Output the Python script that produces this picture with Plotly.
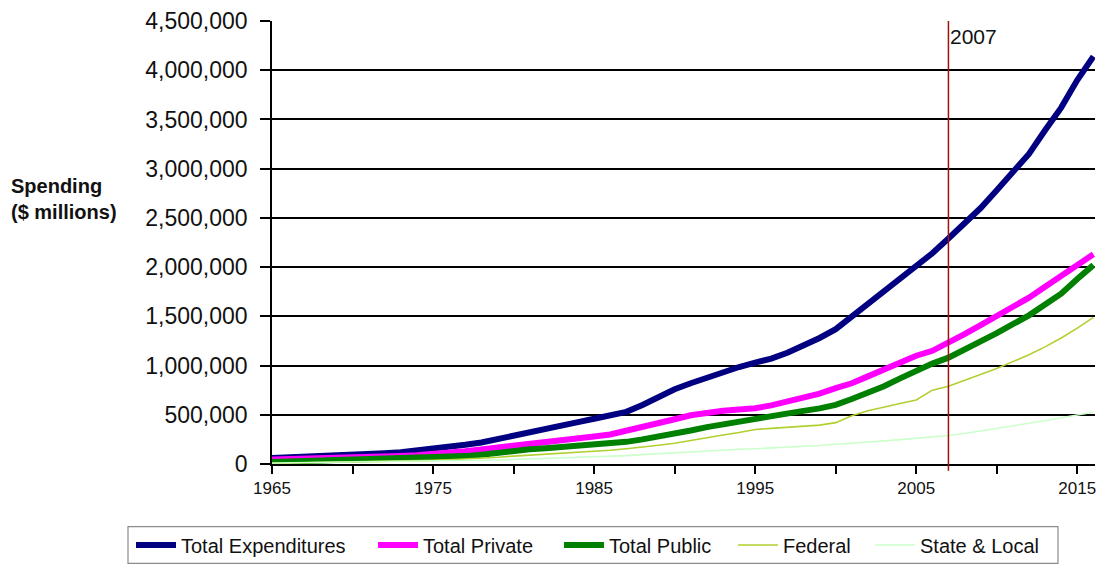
import plotly.graph_objects as go

# National health spending by source of funds ($ millions)
years = list(range(1965, 2017))

total_expenditures = [
    60000, 65000, 72000, 80000, 88000, 95000, 102000, 110000, 120000, 135000,
    150000, 172000, 195000, 218000, 250000, 290000, 320000, 355000, 390000, 425000,
    460000, 495000, 530000, 600000, 680000, 760000, 820000, 880000, 935000, 985000,
    1030000, 1070000, 1130000, 1200000, 1280000, 1370000, 1500000, 1630000, 1760000, 1890000,
    2010000, 2140000, 2290000, 2440000, 2600000, 2780000, 2960000, 3150000, 3390000, 3620000,
    3900000, 4140000,
]

total_private = [
    45000, 48000, 52000, 56000, 60000, 65000, 70000, 75000, 82000, 90000,
    100000, 115000, 130000, 148000, 165000, 185000, 200000, 220000, 240000, 260000,
    280000, 300000, 335000, 375000, 415000, 455000, 495000, 525000, 540000, 553000,
    566000, 595000, 630000, 670000, 715000, 770000, 820000, 890000, 960000, 1040000,
    1100000, 1150000, 1230000, 1320000, 1410000, 1500000, 1590000, 1690000, 1800000, 1910000,
    2030000, 2130000,
]

total_public = [
    20000, 25000, 30000, 34000, 37000, 40000, 43000, 46000, 50000, 55000,
    60000, 70000, 80000, 95000, 115000, 140000, 150000, 160000, 170000, 180000,
    190000, 205000, 225000, 250000, 275000, 300000, 340000, 375000, 405000, 435000,
    465000, 495000, 520000, 540000, 565000, 600000, 660000, 720000, 790000, 870000,
    950000, 1020000, 1080000, 1160000, 1240000, 1330000, 1420000, 1510000, 1620000, 1730000,
    1880000, 2020000,
]

federal = [
    5000, 10000, 15000, 18000, 20000, 22000, 24000, 26000, 28000, 32000,
    37000, 43000, 50000, 58000, 68000, 80000, 90000, 100000, 110000, 120000,
    125000, 140000, 155000, 170000, 190000, 210000, 240000, 270000, 295000, 320000,
    350000, 362000, 372000, 380000, 395000, 420000, 490000, 540000, 580000, 615000,
    650000, 750000, 790000, 850000, 910000, 970000, 1040000, 1110000, 1190000, 1280000,
    1380000, 1490000,
]

state_local = [
    10000, 12000, 14000, 16000, 17000, 18000, 19000, 20000, 22000, 24000,
    26000, 28000, 30000, 35000, 40000, 45000, 50000, 55000, 60000, 65000,
    70000, 78000, 85000, 95000, 105000, 115000, 125000, 135000, 142000, 150000,
    155000, 162000, 170000, 178000, 188000, 200000, 210000, 222000, 235000, 248000,
    260000, 273000, 290000, 310000, 335000, 360000, 385000, 410000, 440000, 470000,
    500000, 525000,
]

series_names = ["Total Expenditures", "Total Private", "Total Public", "Federal", "State & Local"]
series_values = [total_expenditures, total_private, total_public, federal, state_local]

# x-axis ticks every 5 years, labelled every 10
x_tick_vals = list(range(1965, 2016, 5))
x_tick_text = ["1965", "", "1975", "", "1985", "", "1995", "", "2005", "", "2015"]

y_tick_vals = list(range(0, 4500001, 500000))

marker_year = 2007

colors = ["#000080", "#ff00ff", "#008000", "#b0d030", "#ccffcc"]
widths = [6, 6, 6, 1.6, 1.6]

FONT = "Liberation Sans, Arial, sans-serif"

W, H = 1100, 569
L, R, T, B = 272, 5, 21, 102
pw, ph = W - L - R, H - T - B


def px_x(px):
    return (px - L) / pw


def px_y(py):
    return (T + ph - py) / ph


# Left edge (pixels) of each legend entry's key line
legend_left = [131, 373, 559, 733, 870]
legend_ids = ["legend", "legend2", "legend3", "legend4", "legend5"]

fig = go.Figure()
for name, vals, col, w, lid in zip(series_names, series_values, colors, widths, legend_ids):
    fig.add_trace(go.Scatter(
        x=years, y=vals, name=name, mode="lines",
        line=dict(color=col, width=w),
        legend=lid,
    ))

legend_style = dict(
    orientation="h", xanchor="left", yanchor="middle",
    y=px_y(548.5),
    borderwidth=0, bgcolor="rgba(0,0,0,0)",
    font=dict(size=20, family=FONT, color="#111111"),
    itemwidth=40,
)

layout_legends = {}
for lid, lx in zip(legend_ids, legend_left):
    layout_legends[lid] = dict(legend_style, x=px_x(lx))

fig.update_layout(
    width=W, height=H,
    margin=dict(l=L, r=R, t=T, b=B),
    paper_bgcolor="white", plot_bgcolor="white",
    font=dict(family=FONT, color="#111111"),
    showlegend=True,
    **layout_legends,
    xaxis=dict(
        range=[1965, 2016.1],
        tickmode="array", tickvals=x_tick_vals, ticktext=x_tick_text,
        ticks="outside", ticklen=8, tickwidth=1.5, tickcolor="black",
        showline=True, linecolor="black", linewidth=1.5,
        showgrid=False, zeroline=False,
        tickfont=dict(size=17, family=FONT, color="#111111"),
    ),
    yaxis=dict(
        range=[0, 4500000],
        tickmode="array", tickvals=y_tick_vals,
        tickformat=",d",
        ticks="outside", ticklen=10, tickwidth=1.5, tickcolor="black",
        showline=True, linecolor="black", linewidth=1.5,
        showgrid=True, gridcolor="black", gridwidth=1.5,
        zeroline=False,
        tickfont=dict(size=23, family=FONT, color="#111111"),
        ticklabelstandoff=8,
    ),
)

# Frame around the legend entries
fig.add_shape(
    type="rect", xref="paper", yref="paper",
    x0=px_x(128), x1=px_x(1058), y0=px_y(567), y1=px_y(530),
    line=dict(color="#8c8c8c", width=1.2), fillcolor="rgba(0,0,0,0)",
    layer="below",
)

# Vertical marker for the base year of the projections
fig.add_shape(
    type="line", xref="x", yref="paper",
    x0=marker_year, x1=marker_year, y0=-0.015, y1=1,
    line=dict(color="#a01010", width=1.5),
)
fig.add_annotation(
    x=marker_year, xref="x", y=px_y(37), yref="paper",
    text=str(marker_year), showarrow=False,
    xanchor="left", yanchor="middle",
    font=dict(size=21, family=FONT, color="#111111"),
)

# y-axis title
fig.add_annotation(
    x=px_x(9), xref="paper", y=px_y(200), yref="paper",
    text="<b>Spending<br>($ millions)</b>", showarrow=False,
    xanchor="left", yanchor="middle", align="left",
    font=dict(size=20, family=FONT, color="#111111"),
)

fig.write_html("out.html")
